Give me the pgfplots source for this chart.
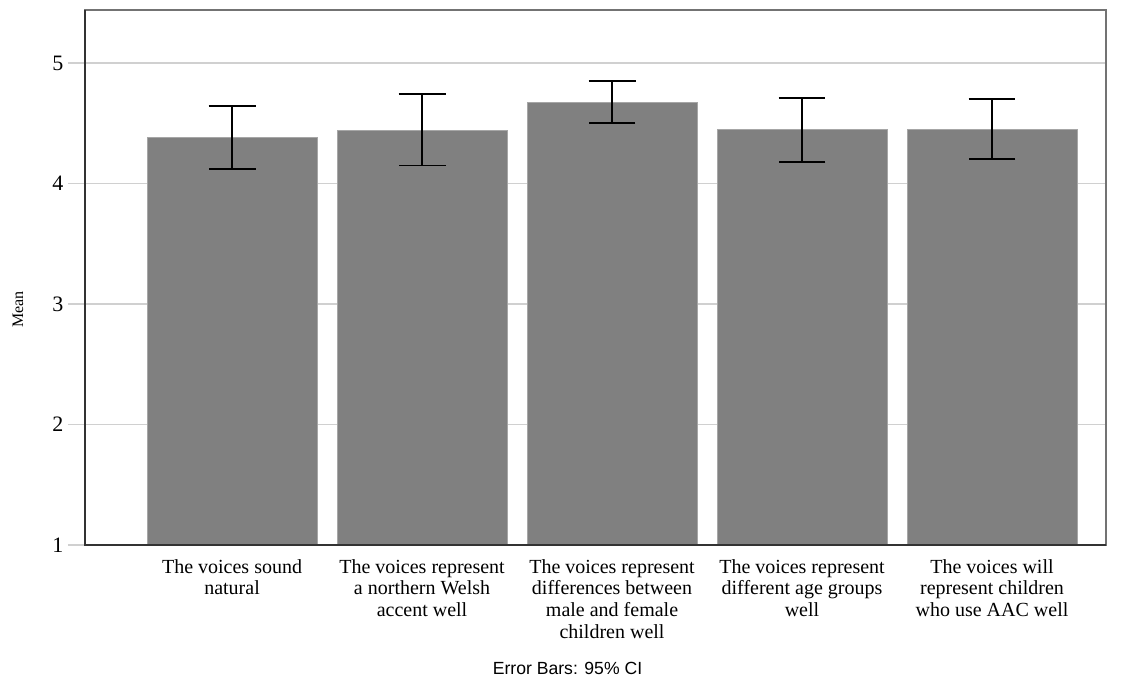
\documentclass[border=0pt]{standalone}
\usepackage{pgfplots}
\pgfplotsset{compat=1.18}
\usepackage{fontspec}
\setmainfont{Liberation Serif}
\newfontfamily\sansf{Liberation Sans}
\definecolor{barfill}{RGB}{128,128,128}
\definecolor{gridc}{RGB}{208,208,208}
\begin{document}
\begin{tikzpicture}
\begin{axis}[
  name=ax,
  scale only axis,
  width=765.75pt, height=401.25pt,
  xmin=-0.774, xmax=4.6,
  ymin=1, ymax=5.44,
  ybar, bar width=127.5pt,
  xtick={0,1,2,3,4},
  xticklabels={{The voices sound\\natural},
               {The voices represent\\a northern Welsh\\accent well},
               {The voices represent\\differences between\\male and female\\children well},
               {The voices represent\\different age groups\\well},
               {The voices will\\represent children\\who use AAC well}},
  xticklabel style={align=center, font=\fontsize{15}{16.2}\selectfont, yshift=5.5pt},
  x tick style={draw=none},
  ytick={1,2,3,4,5},
  ytick pos=left,
  xtick pos=bottom,
  yticklabel style={font=\fontsize{16.5}{18}\selectfont},
  /pgf/number format/assume math mode=true,
  ymajorgrids,
  grid style={gridc, line width=1.2pt},
  y tick style={gridc, line width=1.2pt},
  tick align=outside,
  major tick length=12.75pt,
  axis line style={black!55, line width=0.8pt},
  ylabel={Mean},
  ylabel style={at={(axis description cs:-0.0656,0.44)}, anchor=center, font=\fontsize{12}{13}\selectfont},
  xlabel={Error Bars: 95\% CI},
  xlabel style={at={(axis description cs:0.4726,0)}, anchor=center, yshift=-92.5pt, font=\sansf\fontsize{13.2}{15}\selectfont},
]
\addplot[
  fill=barfill, draw=black!35, line width=0.6pt,
  error bars/.cd,
    y dir=both, y explicit,
    error bar style={black, line width=1.4pt},
    error mark options={rotate=90, mark size=17.6pt, line width=1.4pt, black},
] coordinates {
  (0,4.38)  += (0,0.26)  -= (0,0.26)
  (1,4.44)  += (0,0.30)  -= (0,0.29)
  (2,4.67)  += (0,0.18)  -= (0,0.17)
  (3,4.445) += (0,0.265) -= (0,0.265)
  (4,4.445) += (0,0.255) -= (0,0.245)
};
\end{axis}
\draw[black!80, line width=1pt] (ax.north west) -- (ax.south west) -- (ax.south east);
\pgfresetboundingbox
\path[use as bounding box] ([xshift=-63.75pt,yshift=-100.5pt]ax.south west) rectangle ([xshift=13.5pt,yshift=7.5pt]ax.north east);
\end{tikzpicture}
\end{document}
